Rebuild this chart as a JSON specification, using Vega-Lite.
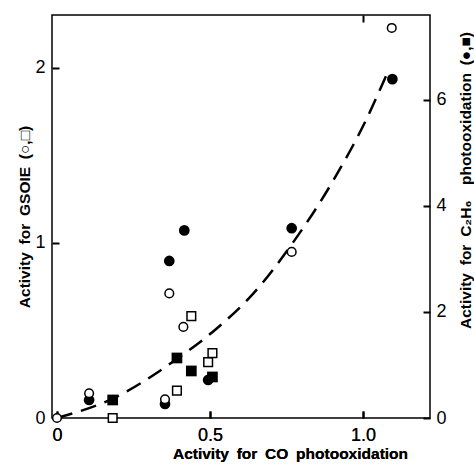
{
  "$schema": "https://vega.github.io/schema/vega-lite/v6.json",
  "width": 378,
  "height": 403,
  "autosize": {"type": "none"},
  "padding": {"left": 52, "top": 15, "right": 44, "bottom": 51},
  "background": "white",
  "config": {
    "view": {"stroke": "black", "strokeWidth": 1.5},
    "axis": {
      "grid": false,
      "domain": false,
      "tickColor": "black",
      "tickWidth": 2,
      "labelColor": "black",
      "titleColor": "black",
      "labelFont": "Liberation Sans",
      "titleFont": "Liberation Sans",
      "labelFontSize": 18,
      "titleFontSize": 15.5,
      "titleFontWeight": "bold"
    }
  },
  "datasets": {
    "gsoie": [
      {"co": 0, "act": 0, "shape": "circle"},
      {"co": 0.105, "act": 0.141, "shape": "circle"},
      {"co": 0.353, "act": 0.107, "shape": "circle"},
      {"co": 0.367, "act": 0.711, "shape": "circle"},
      {"co": 0.413, "act": 0.52, "shape": "circle"},
      {"co": 0.767, "act": 0.948, "shape": "circle"},
      {"co": 1.094, "act": 2.226, "shape": "circle"},
      {"co": 0.182, "act": 0.0, "shape": "square"},
      {"co": 0.392, "act": 0.156, "shape": "square"},
      {"co": 0.439, "act": 0.581, "shape": "square"},
      {"co": 0.494, "act": 0.319, "shape": "square"},
      {"co": 0.508, "act": 0.37, "shape": "square"}
    ],
    "c2h6": [
      {"co": 0.105, "act": 0.34, "shape": "circle"},
      {"co": 0.353, "act": 0.264, "shape": "circle"},
      {"co": 0.367, "act": 2.962, "shape": "circle"},
      {"co": 0.416, "act": 3.538, "shape": "circle"},
      {"co": 0.767, "act": 3.579, "shape": "circle"},
      {"co": 1.096, "act": 6.39, "shape": "circle"},
      {"co": 0.494, "act": 0.717, "shape": "circle"},
      {"co": 0.182, "act": 0.34, "shape": "square"},
      {"co": 0.392, "act": 1.132, "shape": "square"},
      {"co": 0.439, "act": 0.887, "shape": "square"},
      {"co": 0.508, "act": 0.774, "shape": "square"}
    ],
    "curve": [
      {"co": 0, "act": 0},
      {"co": 0.184, "act": 0.112},
      {"co": 0.394, "act": 0.34},
      {"co": 0.522, "act": 0.511},
      {"co": 0.642, "act": 0.711},
      {"co": 0.767, "act": 0.991},
      {"co": 0.903, "act": 1.356},
      {"co": 1.012, "act": 1.708},
      {"co": 1.083, "act": 1.983}
    ]
  },
  "encoding": {
    "x": {
      "field": "co",
      "type": "quantitative",
      "scale": {"domain": [-0.0163, 1.219], "nice": false, "zero": false},
      "axis": {
        "orient": "bottom",
        "values": [0, 0.5, 1],
        "offset": -7,
        "tickSize": 7,
        "labelExpr": "datum.value == 0 ? '0' : format(datum.value, '.1f')",
        "labelPadding": 8,
        "title": "Activity\u2002for\u2002CO\u2002photooxidation",
        "titleX": 238,
        "titleY": 35,
        "titleBaseline": "top"
      }
    }
  },
  "layer": [
    {
      "data": {"name": "c2h6"},
      "mark": {"type": "point", "filled": true, "color": "black", "opacity": 1, "size": 115},
      "encoding": {
        "y": {
          "field": "act",
          "type": "quantitative",
          "scale": {"domain": [0, 7.6], "nice": false, "zero": false},
          "axis": {
            "orient": "right",
            "values": [0, 2, 4, 6],
            "offset": -7,
            "tickSize": 7,
            "labelPadding": 6,
            "title": "Activity\u2002for\u2002C₂H₆\u2002\u2002photooxidation\u2002(●,■)",
            "titleAngle": 270,
            "titleX": 42,
            "titleY": 165,
            "titleBaseline": "middle"
          }
        },
        "shape": {"field": "shape", "type": "nominal", "scale": {"domain": ["circle", "square"], "range": ["circle", "square"]}, "legend": null}
      }
    },
    {
      "encoding": {
        "y": {
          "field": "act",
          "type": "quantitative",
          "scale": {"domain": [0, 2.3], "nice": false, "zero": false},
          "axis": {
            "orient": "left",
            "values": [0, 1, 2],
            "offset": -7,
            "tickSize": 7,
            "labelPadding": 7,
            "title": "Activity\u2002for\u2002GSOIE\u2002(○,□)",
            "titleAngle": 270,
            "titleX": -35,
            "titleY": 201.5,
            "titleBaseline": "middle"
          }
        }
      },
      "layer": [
        {
          "data": {"name": "curve"},
          "mark": {"type": "line", "color": "black", "strokeWidth": 2.5, "strokeDash": [16, 9], "interpolate": "monotone"},
          "encoding": {
            "x": {
              "field": "co",
              "type": "quantitative",
              "scale": {"domain": [-0.0163, 1.219], "nice": false, "zero": false},
              "axis": {"orient": "top", "values": [1], "offset": -7, "tickSize": 7, "labels": false, "title": null}
            }
          }
        },
        {
          "data": {"name": "gsoie"},
          "mark": {"type": "point", "filled": true, "fill": "white", "stroke": "black", "strokeWidth": 1.5, "opacity": 1, "size": 75},
          "encoding": {
            "shape": {"field": "shape", "type": "nominal", "scale": {"domain": ["circle", "square"], "range": ["circle", "square"]}, "legend": null}
          }
        }
      ]
    }
  ],
  "resolve": {"scale": {"y": "independent"}}
}
